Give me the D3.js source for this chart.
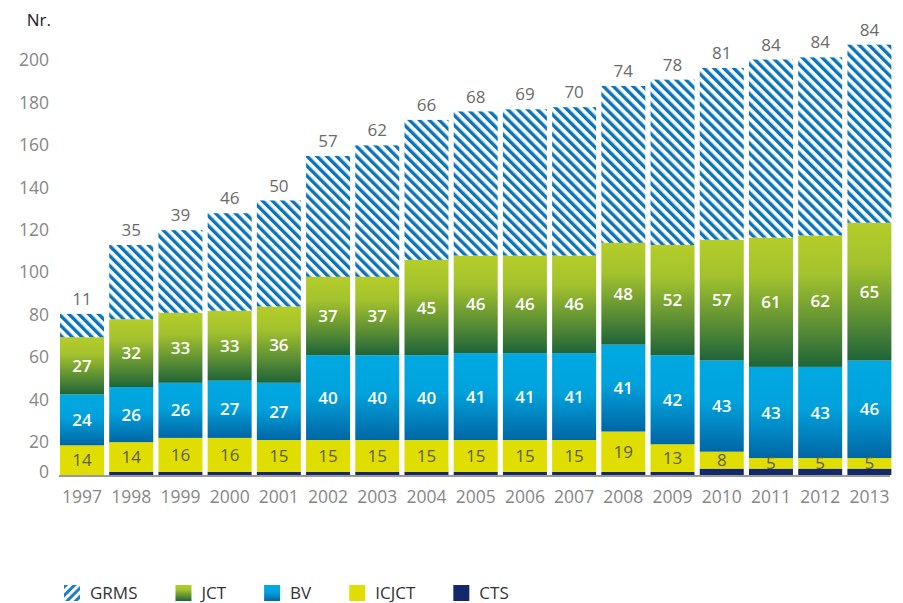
<!DOCTYPE html>
<html>
<head>
<meta charset="utf-8">
<script src="https://cdn.jsdelivr.net/npm/d3@7"></script>
<style>
  html, body { margin: 0; padding: 0; background: #fff; }
  svg { display: block; font-family: "Open Sans", sans-serif; }
</style>
</head>
<body>
<div id="chart"></div>
<script>
const years = ["1997", "1998", "1999", "2000", "2001", "2002", "2003", "2004", "2005",
  "2006", "2007", "2008", "2009", "2010", "2011", "2012", "2013"];
const cts = [0, 1.5, 1.5, 1.5, 1.5, 1.5, 1.5, 1.5, 1.5, 1.5, 1.5, 1.5, 1.5, 3, 3, 3, 3];
const icjct = [14, 14, 16, 16, 15, 15, 15, 15, 15, 15, 15, 19, 13, 8, 5, 5, 5];
const bv = [24, 26, 26, 27, 27, 40, 40, 40, 41, 41, 41, 41, 42, 43, 43, 43, 46];
const jct = [27, 32, 33, 33, 36, 37, 37, 45, 46, 46, 46, 48, 52, 57, 61, 62, 65];
const grms = [11, 35, 39, 46, 50, 57, 62, 66, 68, 69, 70, 74, 78, 81, 84, 84, 84];
const yTicks = [0, 20, 40, 60, 80, 100, 120, 140, 160, 180, 200];
const seriesNames = ["CTS", "ICJCT", "BV", "JCT", "GRMS"];
const legendOrder = ["GRMS", "JCT", "BV", "ICJCT", "CTS"];

(function () {
  const width = 903;
  const height = 603;
  const seriesValues = { CTS: cts, ICJCT: icjct, BV: bv, JCT: jct, GRMS: grms };
  const fills = {
    CTS: "#13296b",
    ICJCT: "#e0de00",
    BV: "url(#grad-bv)",
    JCT: "url(#grad-jct)",
    GRMS: "url(#hatch)"
  };
  const legendFills = Object.assign({}, fills, { GRMS: "url(#hatch-legend)" });
  const labelColor = { ICJCT: "#5d5d45", BV: "#fff", JCT: "#fff" };

  const rows = years.map((year, i) => {
    const row = { year };
    seriesNames.forEach((name) => { row[name] = seriesValues[name][i]; });
    return row;
  });
  const stacked = d3.stack().keys(seriesNames)(rows);

  const x = d3.scaleBand()
    .domain(years)
    .range([57.4, 894])
    .paddingInner(0.106)
    .paddingOuter(0.053);
  const y = d3.scaleLinear().domain([0, 200]).range([475, 51]);

  const svg = d3.select("#chart").append("svg")
    .attr("width", width)
    .attr("height", height);

  const defs = svg.append("defs");

  const gJct = defs.append("linearGradient")
    .attr("id", "grad-jct").attr("x1", 0).attr("y1", 0).attr("x2", 0).attr("y2", 1);
  gJct.append("stop").attr("offset", "0").attr("stop-color", "#b5cd29");
  gJct.append("stop").attr("offset", "0.3").attr("stop-color", "#a3c22d");
  gJct.append("stop").attr("offset", "0.7").attr("stop-color", "#5a8d34");
  gJct.append("stop").attr("offset", "1").attr("stop-color", "#1f6439");

  const gBv = defs.append("linearGradient")
    .attr("id", "grad-bv").attr("x1", 0).attr("y1", 0).attr("x2", 0).attr("y2", 1);
  gBv.append("stop").attr("offset", "0").attr("stop-color", "#00a9e1");
  gBv.append("stop").attr("offset", "0.45").attr("stop-color", "#00a2dc");
  gBv.append("stop").attr("offset", "1").attr("stop-color", "#0066a4");

  const hatch = defs.append("pattern")
    .attr("id", "hatch")
    .attr("patternUnits", "userSpaceOnUse")
    .attr("width", 7)
    .attr("height", 7)
    .attr("patternTransform", "rotate(-45)");
  hatch.append("rect").attr("width", 7).attr("height", 7).attr("fill", "#fff");
  hatch.append("rect").attr("width", 3.4).attr("height", 7).attr("fill", "#0a74bb");

  const hatchLegend = defs.append("pattern")
    .attr("id", "hatch-legend")
    .attr("patternUnits", "userSpaceOnUse")
    .attr("width", 6)
    .attr("height", 6)
    .attr("patternTransform", "rotate(45)");
  hatchLegend.append("rect").attr("width", 6).attr("height", 6).attr("fill", "#fff");
  hatchLegend.append("rect").attr("width", 3).attr("height", 6).attr("fill", "#1a7fc4");

  // bars
  const layers = svg.append("g").selectAll("g")
    .data(stacked)
    .join("g")
    .attr("fill", (d) => fills[d.key]);

  layers.selectAll("rect")
    .data((d) => d)
    .join("rect")
    .attr("x", (d) => x(d.data.year))
    .attr("width", x.bandwidth())
    .attr("y", (d) => y(d[1]))
    .attr("height", (d) => y(d[0]) - y(d[1]));

  // baseline
  svg.append("line")
    .attr("x1", 59).attr("x2", 890)
    .attr("y1", y(0) + 1).attr("y2", y(0) + 1)
    .attr("stroke", "#9a9a9a")
    .attr("stroke-width", 2);

  // labels inside segments
  const labelLayer = svg.append("g")
    .attr("font-size", 17)
    .attr("text-anchor", "middle");

  ["ICJCT", "BV", "JCT"].forEach((key) => {
    const layer = stacked.find((s) => s.key === key);
    labelLayer.append("g")
      .attr("fill", labelColor[key])
      .attr("font-weight", key === "ICJCT" ? 400 : 600)
      .selectAll("text")
      .data(layer)
      .join("text")
      .attr("x", (d) => x(d.data.year) + x.bandwidth() / 2)
      .attr("y", (d) => (y(d[0]) + y(d[1])) / 2)
      .attr("dy", "0.36em")
      .text((d) => d.data[key]);
  });

  const top = stacked.find((s) => s.key === "GRMS");
  labelLayer.append("g")
    .attr("fill", "#6b6b6b")
    .selectAll("text")
    .data(top)
    .join("text")
    .attr("x", (d) => x(d.data.year) + x.bandwidth() / 2)
    .attr("y", (d) => y(d[1]) - 15)
    .attr("dy", "0.36em")
    .text((d) => d.data.GRMS);

  // axes
  const xAxis = svg.append("g")
    .attr("transform", `translate(0, ${y(0) + 22})`)
    .call(d3.axisBottom(x).tickSize(0).tickPadding(0));
  xAxis.select(".domain").remove();
  xAxis.selectAll("text")
    .attr("font-family", "Open Sans, sans-serif")
    .attr("font-size", 17.5)
    .attr("fill", "#878787")
    .attr("dy", "0.36em")
    .attr("y", 0);

  const yAxis = svg.append("g")
    .attr("transform", "translate(49, 0)")
    .call(d3.axisLeft(y).tickValues(yTicks).tickSize(0).tickPadding(0));
  yAxis.select(".domain").remove();
  yAxis.selectAll("text")
    .attr("font-family", "Open Sans, sans-serif")
    .attr("font-size", 17.5)
    .attr("fill", "#878787")
    .attr("x", 0)
    .attr("dy", (d) => (d === 0 ? "0.12em" : "0.85em"));

  svg.append("text")
    .attr("x", 51)
    .attr("y", 20)
    .attr("dy", "0.36em")
    .attr("text-anchor", "end")
    .attr("font-size", 17)
    .attr("fill", "#222")
    .text("Nr.");

  // legend
  const legend = svg.append("g").attr("transform", "translate(64, 585)");
  let cursor = 0;
  legendOrder.forEach((name) => {
    const item = legend.append("g").attr("transform", `translate(${cursor}, 0)`);
    item.append("rect")
      .attr("width", 16)
      .attr("height", 16)
      .attr("fill", legendFills[name]);
    const label = item.append("text")
      .attr("x", 26)
      .attr("y", 8)
      .attr("dy", "0.36em")
      .attr("font-size", 17)
      .attr("fill", "#333")
      .text(name);
    cursor += 26 + label.node().getComputedTextLength() + 38;
  });
})();
</script>
</body>
</html>
